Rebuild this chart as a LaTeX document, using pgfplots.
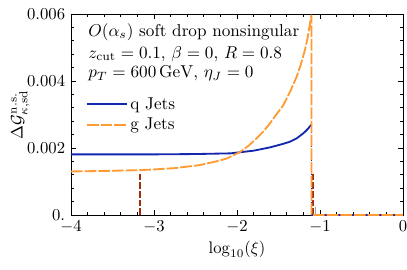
\documentclass[border=0pt]{standalone}
\usepackage{pgfplots}
\pgfplotsset{compat=1.18}
\definecolor{qblue}{RGB}{20,40,175}
\definecolor{gorange}{RGB}{255,155,50}
\definecolor{dred}{RGB}{160,45,15}
\begin{document}
\begin{tikzpicture}
\useasboundingbox (-42.6pt,-32.4pt) rectangle (201.6pt,129pt);
\begin{axis}[
  scale only axis, width=199.2pt, height=120.6pt,
  xmin=-4, xmax=0, ymin=0, ymax=0.006,
  xtick={-4,-3,-2,-1,0}, minor x tick num=4,
  ytick={0,0.002,0.004,0.006}, yticklabels={0.,0.002,0.004,0.006},
  minor y tick num=4,
  scaled y ticks=false,
  tick align=inside, tick pos=both,
  major tick length=3pt, minor tick length=1.6pt,
  tick style={black, line width=0.4pt},
  axis line style={line width=0.5pt},
  xlabel={$\log_{10}(\xi)$},
  ylabel={$\Delta\mathcal{G}^{\mathrm{n.s.}}_{\kappa,\mathrm{sd}}$},
  xlabel style={yshift=2pt},
  ylabel style={at={(axis description cs:-0.152,0.5)}, anchor=center},
  clip=true,
]
% dark red dashed verticals
\addplot[dred, line width=0.8pt, dash pattern=on 4pt off 1.2pt] coordinates {(-3.17,0) (-3.17,0.00127)};
\addplot[dred, line width=0.8pt, dash pattern=on 4pt off 1.2pt] coordinates {(-1.085,0) (-1.085,0.00127)};
\addplot[gray!70, line width=0.6pt] coordinates {(-1.05,0) (-1.05,0.00024)};
% quark
\addplot[qblue, line width=1.1pt] coordinates {
 (-4,0.00181) (-3.5,0.00181) (-3,0.00181) (-2.5,0.00182) (-2.08,0.00184)
 (-1.8,0.00192) (-1.6,0.00202) (-1.45,0.00212) (-1.36,0.00219) (-1.28,0.00229)
 (-1.2,0.00244) (-1.15,0.00256) (-1.103,0.00270)};
\addplot[qblue, line width=1.1pt, densely dotted] coordinates {(-1.103,0.00270) (-1.103,0)};
\addplot[qblue, line width=1.1pt] coordinates {(-1.103,0) (0,0)};
% gluon
\addplot[gorange, line width=1.1pt, dash pattern=on 7pt off 1.2pt] coordinates {
 (-4,0.00130) (-3.5,0.00132) (-3.17,0.00134) (-3,0.00136) (-2.75,0.00140)
 (-2.45,0.00149) (-2.25,0.00160) (-2.12,0.00169) (-1.964,0.00188) (-1.86,0.00207)
 (-1.763,0.00229) (-1.68,0.00250) (-1.602,0.00274) (-1.52,0.00302) (-1.442,0.00328)
 (-1.36,0.00368) (-1.281,0.00413) (-1.23,0.00450) (-1.181,0.00493) (-1.15,0.00528)
 (-1.12,0.00572) (-1.103,0.00598) (-1.103,0) (0,0)};
% text
\node[anchor=base west, inner sep=0pt, scale=1.03] at (rel axis cs:0.051,0.8905) {$O(\alpha_s)$ soft drop nonsingular};
\node[anchor=base west, inner sep=0pt, scale=1.03] at (rel axis cs:0.051,0.781) {$z_{\mathrm{cut}}=0.1$, $\beta=0$, $R=0.8$};
\node[anchor=base west, inner sep=0pt, scale=1.03] at (rel axis cs:0.051,0.682) {$p_T=600\,\mathrm{GeV}$, $\eta_J=0$};
% legend
\draw[qblue, line width=1.1pt] (rel axis cs:0.048,0.552) -- (rel axis cs:0.169,0.552);
\node[anchor=base west, inner sep=0pt, scale=1.03] at (rel axis cs:0.178,0.527) {q Jets};
\draw[gorange, line width=1.1pt, dash pattern=on 7pt off 1.2pt] (rel axis cs:0.048,0.448) -- (rel axis cs:0.169,0.448);
\node[anchor=base west, inner sep=0pt, scale=1.03] at (rel axis cs:0.178,0.423) {g Jets};
\end{axis}
\end{tikzpicture}
\end{document}
